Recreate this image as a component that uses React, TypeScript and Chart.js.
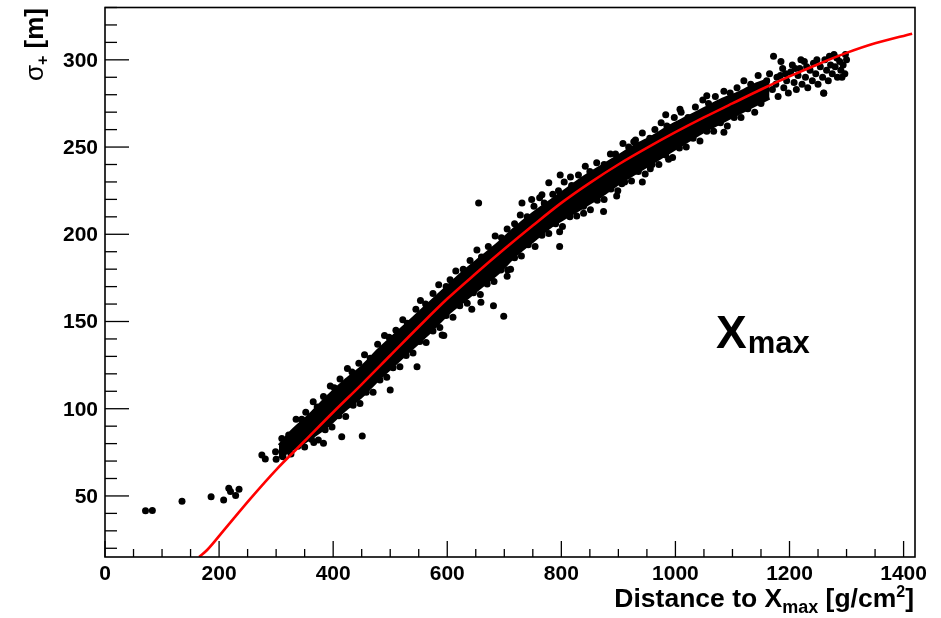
import React, { useEffect, useRef } from 'react';
import { Chart, registerables } from 'chart.js';

Chart.register(...registerables);

// ---- axis tick labels ----
const xTickLabels = [0, 200, 400, 600, 800, 1000, 1200, 1400];
const yTickLabels = [50, 100, 150, 200, 250, 300];

// ---- red fit curve (x, sigma) ----
const fitCurve: number[][] = [
  [165, 15], [179, 19], [210, 31], [255, 48.5], [300, 65], [350, 81.5], [400, 98], [450, 114],
  [500, 130.5], [550, 147], [600, 163], [650, 177.5], [700, 191.5], [750, 205], [800, 218],
  [850, 229.5], [900, 240], [950, 249.5], [1000, 258.5], [1050, 267], [1100, 275], [1150, 283],
  [1200, 290.5], [1250, 297.5], [1300, 304], [1350, 309.5], [1415, 315],
];

// ---- dense core of the point cloud: lower and upper edges ----
const coreLower: number[][] = [
  [305, 72], [330, 77], [360, 83], [390, 90], [420, 99], [450, 107], [480, 117], [510, 126],
  [540, 135], [570, 144], [600, 154], [630, 162], [660, 170], [690, 178], [720, 188], [750, 196],
  [780, 204], [810, 210], [840, 216], [870, 222], [900, 229], [930, 235], [960, 241], [990, 247],
  [1020, 253], [1050, 259], [1080, 264], [1110, 269], [1140, 274], [1165, 278],
];
const coreUpper: number[][] = [
  [305, 79], [330, 88], [360, 97], [390, 107], [420, 116], [450, 124], [480, 134], [510, 143],
  [540, 152], [570, 161], [600, 170], [630, 179], [660, 187], [690, 195], [720, 204], [750, 212],
  [780, 219], [810, 226], [840, 233], [870, 239], [900, 245], [930, 251], [960, 256], [990, 262],
  [1020, 267], [1050, 272], [1080, 277], [1110, 281], [1140, 286], [1165, 289],
];

// ---- measured points along the upper edge of the cloud ----
const upperEdgePoints: number[][] = [
  [310, 83], [322, 85], [335, 94], [345, 94], [352, 98], [365, 104], [372, 101], [383, 107],
  [395, 113], [402, 112], [412, 117], [425, 123], [433, 121], [445, 126], [455, 131], [465, 129],
  [478, 137], [490, 142], [498, 141], [510, 145], [522, 151], [530, 149], [545, 157], [553, 162],
  [562, 160], [575, 166], [585, 171], [598, 170], [605, 174], [615, 179], [628, 180], [640, 185],
  [652, 191], [660, 187], [672, 193], [684, 199], [695, 198], [705, 203], [718, 206], [728, 211],
  [740, 210], [752, 216], [762, 221], [770, 218], [785, 223], [795, 225], [805, 230], [818, 228],
  [830, 234], [842, 239], [850, 236], [862, 241], [875, 240], [886, 246], [895, 246], [908, 252],
  [918, 250], [930, 254], [942, 258], [955, 255], [964, 260], [975, 264], [985, 262], [998, 267],
  [1010, 270], [1022, 267], [1035, 273], [1048, 277], [1058, 275], [1070, 279], [1085, 282],
  [1096, 281], [1108, 284], [1120, 288], [1132, 286], [1145, 291],
];

// ---- measured points along the lower edge of the cloud ----
const lowerEdgePoints: number[][] = [
  [300, 71], [312, 72.5], [326, 74], [338, 78.5], [350, 78], [362, 82.5], [374, 82], [386, 88],
  [398, 89.5], [410, 96], [422, 95.5], [435, 102], [447, 103], [458, 109.5], [470, 109.5],
  [482, 116.5], [494, 118], [505, 123.5], [517, 124], [528, 130.5], [540, 132], [552, 138.5],
  [563, 138], [575, 144.5], [587, 146.5], [598, 153.5], [610, 152.5], [622, 159], [635, 160.5],
  [646, 166.5], [658, 165.5], [670, 171.5], [682, 173], [694, 179.5], [706, 179.5], [718, 186.5],
  [730, 187.5], [742, 194], [754, 193], [766, 199.5], [778, 200.5], [790, 206], [802, 204.5],
  [815, 210], [827, 210.5], [839, 216], [851, 214], [863, 219.5], [875, 220], [887, 226],
  [899, 225], [911, 230], [923, 230.5], [935, 236], [947, 234.5], [959, 240], [971, 240],
  [983, 245.5], [995, 244], [1007, 249.5], [1019, 250], [1031, 255], [1043, 253.5], [1055, 259],
  [1067, 259], [1079, 264], [1091, 262], [1103, 267], [1115, 267], [1127, 272], [1139, 270],
  [1150, 275],
];

// ---- sparse tail of the cloud at large distance ----
const tailPoints: number[][] = [
  [1152, 284], [1158, 280], [1160, 288], [1165, 292], [1170, 283], [1172, 302], [1176, 286],
  [1180, 279], [1184, 291], [1188, 295], [1190, 284], [1195, 288], [1198, 281], [1202, 293],
  [1205, 297], [1208, 287], [1212, 283], [1215, 291], [1218, 295], [1222, 286], [1226, 299],
  [1228, 290], [1232, 284], [1236, 294], [1240, 288], [1242, 298], [1246, 292], [1250, 286],
  [1254, 296], [1258, 290], [1262, 300], [1265, 294], [1268, 288], [1272, 297], [1275, 292],
  [1278, 303], [1280, 296], [1284, 290], [1288, 299], [1290, 294], [1294, 297], [1297, 292],
  [1300, 300], [1298, 303], [1270, 302], [1220, 300], [1185, 299], [1260, 281], [1178, 290],
  [1193, 292], [1210, 295], [1230, 296], [1248, 300], [1283, 301], [1292, 290],
];

// ---- isolated points (outliers and low-distance events) ----
const outlierPoints: number[][] = [
  [71, 41.5], [83, 41.6], [135, 47], [186, 49.6], [208, 47.7], [217, 54.4], [220, 52.5],
  [229, 50.2], [235, 53.8], [275, 73.5], [281, 71.2], [299, 75.4], [366, 80.6], [383, 80.2],
  [415, 84], [451, 84.4], [500, 110.8], [547, 124], [591, 142.3], [594, 142], [643, 157],
  [659, 161], [681, 159], [699, 153], [705, 176], [711, 180], [797, 193], [797, 201.5],
  [874, 213], [942, 230], [897, 222], [988, 243], [956, 237.5], [1085, 258.5], [655, 218],
  [983, 268.5], [1055, 279.4], [1260, 280.8], [731, 218], [748, 220], [766, 222.6],
  [778, 229.6], [798, 234], [816, 232.8], [839, 212], [906, 229], [1008, 271.7], [927, 253],
];

const toXY = (arr: number[][]) => arr.map(([x, y]) => ({ x, y }));

const FONT = '"Liberation Sans", Arial, Helvetica, sans-serif';

const rootAxesPlugin = {
  id: 'rootAxes',
  afterDraw(chart: any) {
    const { ctx, chartArea: a } = chart;
    const xs = chart.scales.x;
    const ys = chart.scales.y;
    ctx.save();
    ctx.strokeStyle = '#000';
    ctx.lineWidth = 1.6;
    ctx.strokeRect(a.left, a.top, a.right - a.left, a.bottom - a.top);

    // x ticks (inward from bottom)
    ctx.lineWidth = 1.3;
    for (let v = 0; v <= xs.max; v += 50) {
      const px = xs.getPixelForValue(v);
      const major = xTickLabels.includes(v);
      const len = major ? 16 : 8;
      ctx.beginPath();
      ctx.moveTo(px, a.bottom);
      ctx.lineTo(px, a.bottom - len);
      ctx.stroke();
    }
    // y ticks (inward from left)
    for (let v = 20; v <= ys.max; v += 10) {
      const py = ys.getPixelForValue(v);
      const major = yTickLabels.includes(v);
      const len = major ? 24 : 12;
      ctx.beginPath();
      ctx.moveTo(a.left, py);
      ctx.lineTo(a.left + len, py);
      ctx.stroke();
    }

    ctx.fillStyle = '#000';
    ctx.font = `bold 21px ${FONT}`;
    ctx.textAlign = 'center';
    ctx.textBaseline = 'alphabetic';
    for (const v of xTickLabels) {
      ctx.fillText(String(v), xs.getPixelForValue(v), a.bottom + 23);
    }
    ctx.textAlign = 'right';
    ctx.textBaseline = 'middle';
    for (const v of yTickLabels) {
      ctx.fillText(String(v), a.left - 7, ys.getPixelForValue(v) + 1);
    }

    // x axis title: Distance to X_max [g/cm^2], right aligned
    ctx.textBaseline = 'alphabetic';
    ctx.textAlign = 'left';
    const big = `bold 26.5px ${FONT}`;
    const small = `bold 18px ${FONT}`;
    const parts: [string, string, number][] = [
      ['Distance to X', big, 0],
      ['max', small, 6],
      [' [g/cm', big, 0],
      ['2', `bold 16px ${FONT}`, -10],
      [']', big, 0],
    ];
    let total = 0;
    for (const [t, f] of parts) { ctx.font = f; total += ctx.measureText(t).width; }
    let cx = 914 - total;
    const base = 607;
    for (const [t, f, dy] of parts) {
      ctx.font = f;
      ctx.fillText(t, cx, base + dy);
      cx += ctx.measureText(t).width;
    }

    // y axis title: sigma_+ [m], rotated
    ctx.save();
    ctx.translate(43, 8);
    ctx.rotate(-Math.PI / 2);
    const yparts: [string, string, number][] = [
      ['\u03c3', `26px ${FONT}`, 0],
      ['+', `bold 16px ${FONT}`, 5],
      [' [m]', `bold 26px ${FONT}`, 0],
    ];
    let ytotal = 0;
    for (const [t, f] of yparts) { ctx.font = f; ytotal += ctx.measureText(t).width; }
    let yx = -ytotal;
    for (const [t, f, dy] of yparts) {
      ctx.font = f;
      ctx.fillText(t, yx, dy);
      yx += ctx.measureText(t).width;
    }
    ctx.restore();

    // annotation X_max
    ctx.font = `bold 46px ${FONT}`;
    ctx.fillText('X', 716, 348);
    const w = ctx.measureText('X').width;
    ctx.font = `bold 31px ${FONT}`;
    ctx.fillText('max', 716 + w + 1, 353);

    ctx.restore();
  },
};

export default function App() {
  const ref = useRef<HTMLCanvasElement>(null);
  useEffect(() => {
    const canvas = ref.current;
    if (!canvas) return;
    const cloud = [...upperEdgePoints, ...lowerEdgePoints, ...tailPoints, ...outlierPoints];
    const chart = new Chart(canvas, {
      type: 'scatter',
      data: {
        datasets: [
          {
            type: 'line',
            label: 'fit',
            data: toXY(fitCurve),
            borderColor: '#ff0000',
            borderWidth: 2.6,
            pointRadius: 0,
            showLine: true,
            fill: false,
            cubicInterpolationMode: 'monotone',
          } as any,
          {
            type: 'scatter',
            label: 'events',
            data: toXY(cloud),
            pointRadius: 3.5,
            pointHoverRadius: 3.5,
            pointBackgroundColor: '#000',
            pointBorderWidth: 0,
            borderColor: '#000',
          } as any,
          {
            type: 'line',
            label: 'coreLower',
            data: toXY(coreLower),
            borderColor: '#000',
            borderWidth: 3,
            pointRadius: 0,
            showLine: true,
            fill: false,
            tension: 0.3,
          } as any,
          {
            type: 'line',
            label: 'coreUpper',
            data: toXY(coreUpper),
            borderColor: '#000',
            borderWidth: 3,
            backgroundColor: '#000',
            pointRadius: 0,
            showLine: true,
            fill: '-1',
            tension: 0.3,
          } as any,
        ],
      },
      options: {
        animation: false,
        responsive: false,
        devicePixelRatio: 1,
        layout: { padding: { left: 105, right: 26, top: 7.5, bottom: 61 } },
        plugins: { legend: { display: false }, tooltip: { enabled: false } },
        events: [],
        scales: {
          x: { type: 'linear', min: 0, max: 1420, display: false },
          y: { type: 'linear', min: 15, max: 330, display: false },
        },
      },
      plugins: [rootAxesPlugin],
    });
    return () => chart.destroy();
  }, []);
  return (
    <div style={{ position: 'fixed', left: 0, top: 0, width: 941, height: 618, background: '#fff' }}>
      <canvas ref={ref} width={941} height={618} style={{ display: 'block', width: 941, height: 618 }} />
    </div>
  );
}
